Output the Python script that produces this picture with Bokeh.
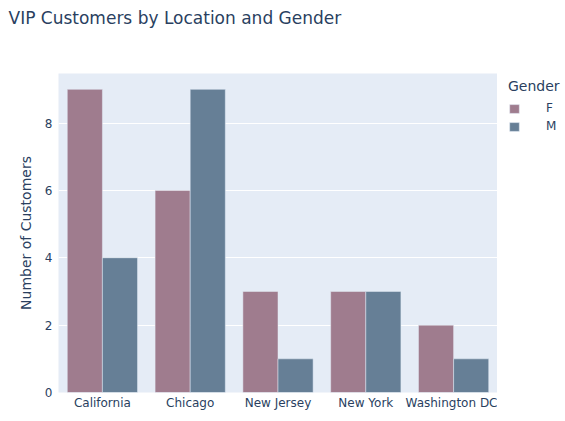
from bokeh.plotting import figure
from bokeh.layouts import column, row
from bokeh.models import FactorRange, Legend, LegendItem, Range1d, Label, Spacer, ColumnDataSource
from bokeh.transform import dodge
from bokeh.embed import file_html
from bokeh.resources import INLINE

cities = ["California", "Chicago", "New Jersey", "New York", "Washington DC"]
female = [9, 6, 3, 3, 2]
male = [4, 9, 1, 3, 1]
y_ticks = [0, 2, 4, 6, 8]
title_text = "VIP Customers by Location and Gender"
y_title = "Number of Customers"
legend_title = "Gender"

FONT = "DejaVu Sans"
TXT = "#2a3f5f"
F_COLOR = "#9f7c8e"
M_COLOR = "#667f96"
BG = "#E5ECF6"

src = ColumnDataSource(dict(city=cities, F=female, M=male))

# --- title strip ---
tf = figure(width=565, height=40, x_axis_type=None, y_axis_type=None,
            x_range=Range1d(0, 1), y_range=Range1d(0, 1),
            output_backend="svg", toolbar_location=None, min_border=0)
tf.outline_line_color = None
tf.background_fill_color = "white"
tf.add_layout(Label(x=8, y=23, x_units="screen", y_units="screen", text=title_text,
                    text_font=FONT, text_font_size="17px", text_color=TXT,
                    text_align="left", text_baseline="middle"))

# --- main plot ---
p = figure(width=497, height=381, x_range=FactorRange(*cities, range_padding=0),
           y_range=Range1d(0, 9.47), output_backend="svg", toolbar_location=None,
           min_border_left=58, min_border_right=0, min_border_top=33, min_border_bottom=29)
p.background_fill_color = BG
p.border_fill_color = "white"
p.outline_line_color = None

p.vbar(x=dodge("city", -0.2, range=p.x_range), top="F", width=0.4, source=src,
       fill_color=F_COLOR, line_color=BG, line_width=0.5)
p.vbar(x=dodge("city", 0.2, range=p.x_range), top="M", width=0.4, source=src,
       fill_color=M_COLOR, line_color=BG, line_width=0.5)

p.xgrid.grid_line_color = None
p.ygrid.grid_line_color = "white"
p.ygrid.grid_line_width = 1
p.yaxis.ticker = y_ticks
for ax in (p.xaxis[0], p.yaxis[0]):
    ax.axis_line_color = None
    ax.major_tick_line_color = None
    ax.minor_tick_line_color = None
    ax.major_tick_out = 0
    ax.major_tick_in = 0
    ax.minor_tick_out = 0
    ax.major_label_text_font = FONT
    ax.major_label_text_font_size = "12px"
    ax.major_label_text_color = TXT
p.xaxis.major_label_standoff = 3
p.yaxis.major_label_standoff = 6
p.yaxis.axis_label = y_title
p.yaxis.axis_label_text_font = FONT
p.yaxis.axis_label_text_font_size = "14px"
p.yaxis.axis_label_text_font_style = "normal"
p.yaxis.axis_label_text_color = TXT
p.yaxis.axis_label_standoff = 8

# --- legend strip (legend only; its renderers are hidden) ---
lf = figure(width=57, height=343, x_axis_type=None, y_axis_type=None,
            x_range=FactorRange(*cities), y_range=Range1d(0, 9.47),
            output_backend="svg", toolbar_location=None, min_border=0)
lf.outline_line_color = None
lf.background_fill_color = "white"
lf_f = lf.vbar(x=dodge("city", -0.2, range=lf.x_range), top="F", width=0.4, source=src,
               fill_color=F_COLOR, line_color=BG, line_width=0.5, visible=False)
lf_m = lf.vbar(x=dodge("city", 0.2, range=lf.x_range), top="M", width=0.4, source=src,
               fill_color=M_COLOR, line_color=BG, line_width=0.5, visible=False)

legend = Legend(items=[LegendItem(label="F", renderers=[lf_f]), LegendItem(label="M", renderers=[lf_m])],
                location="top_left", title=legend_title)
legend.title_text_font = FONT
legend.title_text_font_size = "14px"
legend.title_text_color = TXT
legend.title_text_font_style = "normal"
legend.title_standoff = 7
legend.label_text_font = FONT
legend.label_text_font_size = "12px"
legend.label_text_color = TXT
legend.label_height = 14
legend.background_fill_alpha = 0
legend.border_line_color = None
legend.glyph_width = 12
legend.glyph_height = 11
legend.label_standoff = 26
legend.spacing = 4
legend.padding = 4
legend.margin = 0
legend.inactive_fill_alpha = 0
lf.add_layout(legend, "center")

right = column(Spacer(width=57, height=38), lf, spacing=0)
layout = column(tf, row(p, Spacer(width=11, height=381), right, spacing=0), spacing=0)
open("out.html", "w").write(file_html(layout, INLINE))
